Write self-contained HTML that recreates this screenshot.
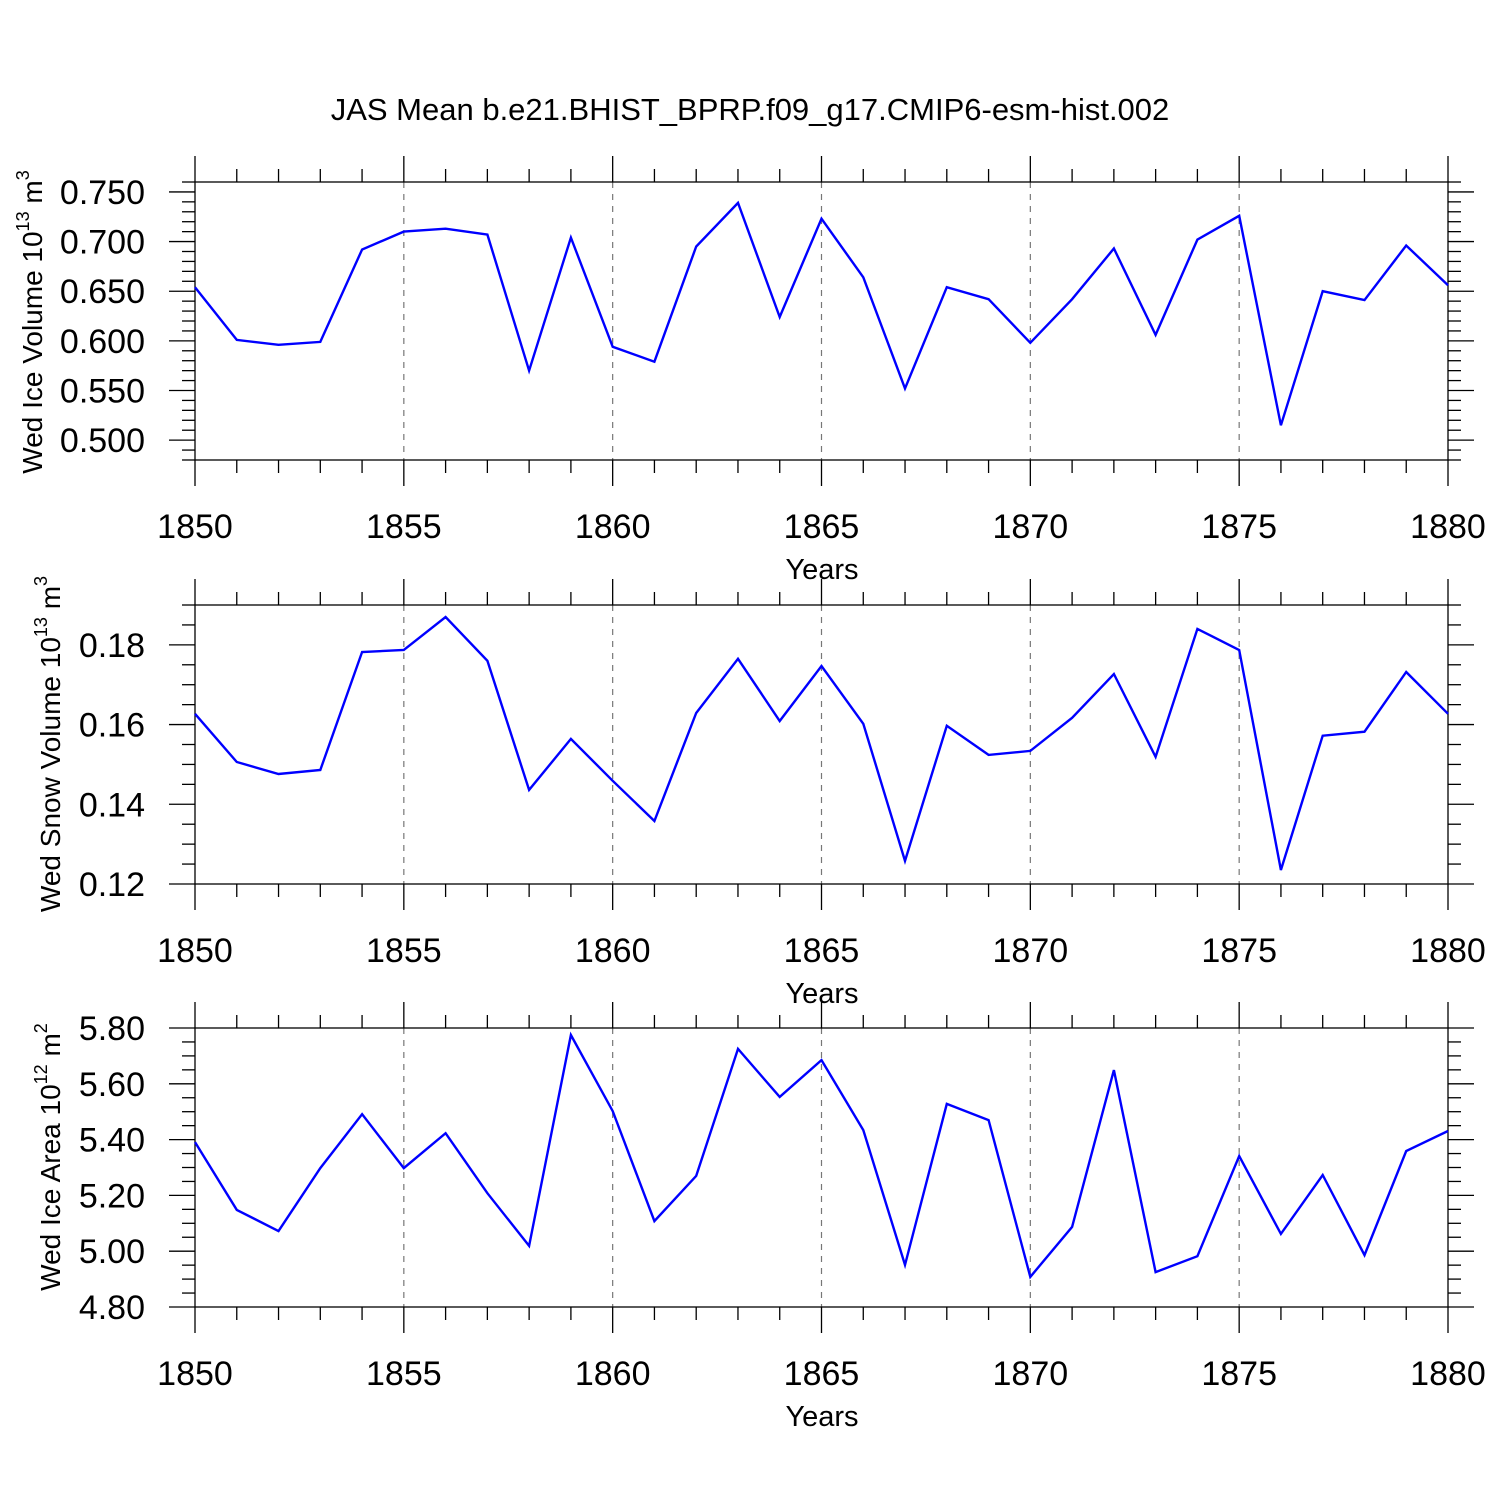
<!DOCTYPE html>
<html><head><meta charset="utf-8"><style>
html,body{margin:0;padding:0;background:#fff}
svg text{font-family:"Liberation Sans",sans-serif;fill:#000}
</style></head><body>
<svg id="s" width="1500" height="1500" viewBox="0 0 1500 1500" xmlns="http://www.w3.org/2000/svg">
<text x="750" y="120" font-size="31" text-anchor="middle">JAS Mean b.e21.BHIST_BPRP.f09_g17.CMIP6-esm-hist.002</text>
</svg>
<script>
const years = [];
for (let y = 1850; y <= 1880; y++) years.push(y);
const iceVolume = [0.654,0.601,0.596,0.599,0.692,0.710,0.713,0.707,0.570,0.704,0.594,0.579,0.695,0.739,0.624,0.723,0.664,0.552,0.654,0.642,0.598,0.642,0.693,0.606,0.702,0.726,0.515,0.650,0.641,0.696,0.656];
const snowVolume = [0.1627,0.1506,0.1476,0.1486,0.1782,0.1787,0.1870,0.1760,0.1436,0.1564,0.1459,0.1358,0.1629,0.1765,0.1609,0.1747,0.1602,0.1258,0.1597,0.1524,0.1534,0.1617,0.1727,0.1519,0.1840,0.1787,0.1235,0.1572,0.1582,0.1732,0.1627];
const iceArea = [5.391,5.148,5.072,5.298,5.491,5.298,5.423,5.208,5.019,5.775,5.502,5.108,5.270,5.725,5.553,5.685,5.434,4.951,5.528,5.470,4.908,5.087,5.649,4.925,4.982,5.341,5.062,5.273,4.986,5.359,5.431];
const xTickLabels = ["1850","1855","1860","1865","1870","1875","1880"];
const ticks1 = ["0.500","0.550","0.600","0.650","0.700","0.750"];
const ticks2 = ["0.12","0.14","0.16","0.18"];
const ticks3 = ["4.80","5.00","5.20","5.40","5.60","5.80"];

const NS = "http://www.w3.org/2000/svg";
const svg = document.getElementById('s');
const X0 = 195, X1 = 1448;
function xs(v){ return X0 + (v - 1850) / 30 * (X1 - X0); }
function mk(tag, attrs, parent){
  const e = document.createElementNS(NS, tag);
  for (const k in attrs) e.setAttribute(k, attrs[k]);
  (parent || svg).appendChild(e);
  return e;
}
function panel(p){
  const g = mk('g', {});
  
  
  const ys = v => p.top + (p.ymax - v) / (p.ymax - p.ymin) * (p.bot - p.top);
  const st = {stroke:'#000','stroke-width':1.3};
  for (let yr = 1855; yr < 1880; yr += 5) {
    const l = mk('line', {x1:xs(yr),x2:xs(yr),y1:p.top,y2:p.bot,stroke:'#777','stroke-width':1.2,'stroke-dasharray':'6,6'}, g);
    
    
  }
  const fr = mk('rect', {x:X0,y:p.top,width:X1-X0,height:p.bot-p.top,fill:'none',stroke:'#000','stroke-width':1.3}, g);
  
  
  for (let yr = 1850; yr <= 1880; yr++) {
    const L = yr % 5 === 0 ? 26 : 13;
    mk('line', Object.assign({x1:xs(yr),x2:xs(yr),y1:p.top,y2:p.top-L}, st), g);
    mk('line', Object.assign({x1:xs(yr),x2:xs(yr),y1:p.bot,y2:p.bot+L}, st), g);
  }
  xTickLabels.forEach(t => {
    const tx = mk('text', {x:xs(+t), y:p.bot+78, 'font-size':34, 'text-anchor':'middle'}, g);
    tx.textContent = t;
    
    
  });
  const xt = mk('text', {x:822, y:p.bot+119, 'font-size':29, 'text-anchor':'middle'}, g);
  xt.textContent = 'Years';
  
  
  const n = Math.round((p.ymax - p.ymin) / p.minor);
  for (let i = 0; i <= n; i++) {
    const v = p.ymin + i * p.minor;
    const isMaj = p.labels.some(t => Math.abs(+t - v) < p.minor / 10);
    const L = isMaj ? 26 : 13;
    mk('line', Object.assign({x1:X0,x2:X0-L,y1:ys(v),y2:ys(v)}, st), g);
    mk('line', Object.assign({x1:X1,x2:X1+L,y1:ys(v),y2:ys(v)}, st), g);
  }
  p.labels.forEach(t => {
    const tx = mk('text', {x:145, y:ys(+t)+12, 'font-size':34, 'text-anchor':'end'}, g);
    tx.textContent = t;
    
    
  });
  const yt = mk('text', {x:0, y:0, 'font-size':28, 'text-anchor':'middle', transform:`translate(${p.tx},${p.ty}) rotate(-90)`}, g);
  yt.innerHTML = p.title + ' 10<tspan font-size="18" dy="-13">' + p.exp + '</tspan><tspan dy="13"> m</tspan><tspan font-size="18" dy="-13">' + p.unitExp + '</tspan>';
  
  
  const d = p.data.map((v, i) => (i ? 'L' : 'M') + xs(years[i]).toFixed(1) + ',' + ys(v).toFixed(1)).join(' ');
  const path = mk('path', {d:d, fill:'none', stroke:'#0000ff', 'stroke-width':2.4, 'stroke-linejoin':'miter'}, g);
  
  
}
panel({name:'ice-volume-panel', top:182, bot:460, ymin:0.48, ymax:0.76, minor:0.01, labels:ticks1, data:iceVolume, title:'Wed Ice Volume', exp:'13', unitExp:'3', tx:42, ty:322});
panel({name:'snow-volume-panel', top:605, bot:884, ymin:0.12, ymax:0.19, minor:0.005, labels:ticks2, data:snowVolume, title:'Wed Snow Volume', exp:'13', unitExp:'3', tx:60, ty:744});
panel({name:'ice-area-panel', top:1028, bot:1307, ymin:4.8, ymax:5.8, minor:0.05, labels:ticks3, data:iceArea, title:'Wed Ice Area', exp:'12', unitExp:'2', tx:60, ty:1157});
</script>
</body></html>
